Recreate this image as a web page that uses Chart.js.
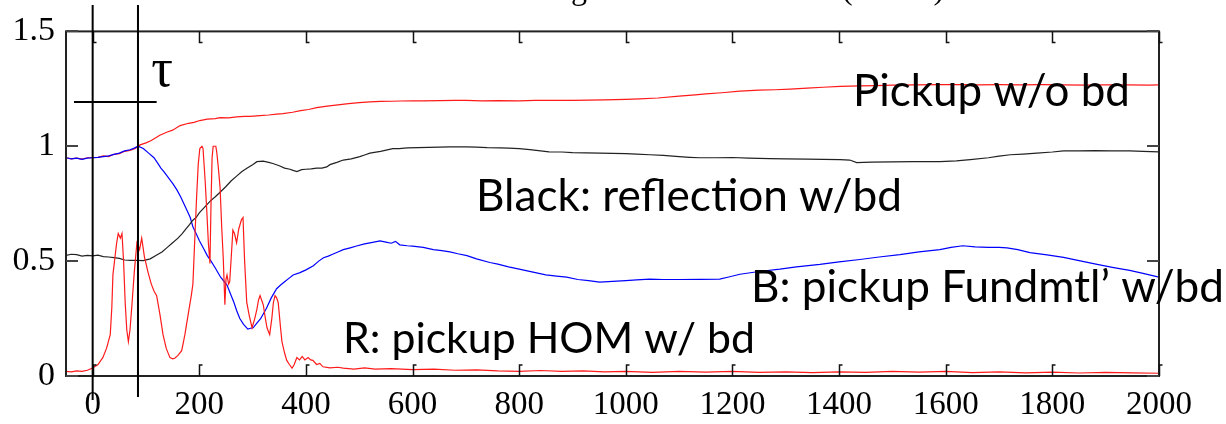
<!DOCTYPE html>
<html><head><meta charset="utf-8">
<script src="https://cdn.jsdelivr.net/npm/chart.js@4.4.1/dist/chart.umd.min.js"></script>
<style>html,body{margin:0;padding:0;background:#fff;overflow:hidden}</style>
</head><body>
<canvas id="c" width="1226" height="424" style="width:1226px;height:424px;display:block"></canvas>
<script>
const xTicks = [0,200,400,600,800,1000,1200,1400,1600,1800,2000];
const yTicks = [0,0.5,1,1.5];
const yTickLabels = {0:'0',0.5:'0.5',1:'1',1.5:'1.5'};
const tauLines = [0, 85];
const tauBarY = 1.193;

const pickupNoBd = [[-50,.95],[-40,.945],[-30,.948],[-20,.944],[-10,.95],[0,.95],[10,.952],[20,.958],[30,.955],[40,.965],[50,.968],[60,.978],[70,.982],[80,.99],[85,1.0],[89,1.006],[100,1.015],[110,1.025],[126,1.048],[140,1.062],[150,1.07],[164,1.09],[180,1.10],[190,1.104],[201,1.112],[215,1.118],[230,1.12],[239,1.125],[255,1.124],[270,1.128],[285,1.13],[295,1.13],[314,1.133],[330,1.136],[345,1.14],[357,1.142],[375,1.148],[390,1.155],[405,1.16],[420,1.168],[440,1.175],[460,1.18],[480,1.186],[500,1.19],[520,1.193],[540,1.195],[560,1.196],[578,1.197],[600,1.198],[620,1.198],[650,1.199],[680,1.2],[700,1.2],[730,1.198],[760,1.199],[800,1.198],[830,1.2],[860,1.2],[900,1.2],[930,1.201],[960,1.202],[1000,1.204],[1026,1.206],[1060,1.21],[1100,1.218],[1130,1.224],[1150,1.228],[1180,1.233],[1214,1.24],[1250,1.244],[1280,1.246],[1308,1.249],[1340,1.253],[1370,1.257],[1402,1.261],[1440,1.263],[1470,1.264],[1500,1.266],[1540,1.267],[1589,1.268],[1620,1.268],[1660,1.267],[1700,1.268],[1740,1.267],[1780,1.268],[1820,1.267],[1860,1.266],[1900,1.267],[1940,1.267],[1980,1.266],[2000,1.267]];

const reflectionBd = [[-50,.525],[-40,.53],[-30,.528],[-20,.522],[-10,.525],[0,.523],[10,.526],[20,.52],[30,.518],[40,.515],[50,.512],[60,.505],[70,.503],[83,.503],[95,.502],[108,.51],[121,.528],[130,.54],[140,.56],[150,.58],[160,.60],[168,.62],[175,.64],[182,.66],[188,.678],[194,.69],[200,.71],[210,.735],[220,.76],[230,.78],[239,.80],[250,.825],[260,.85],[270,.87],[280,.89],[290,.905],[300,.92],[308,.933],[320,.935],[330,.93],[338,.925],[350,.915],[360,.905],[370,.90],[376,.895],[383,.89],[392,.898],[400,.9],[410,.902],[420,.905],[430,.905],[439,.91],[445,.92],[458,.93],[470,.94],[485,.945],[501,.955],[510,.962],[520,.97],[540,.978],[563,.99],[575,.99],[590,.993],[610,.994],[630,.995],[650,.996],[669,.997],[685,.998],[700,.997],[720,.996],[740,.994],[764,.993],[780,.992],[800,.99],[820,.985],[840,.98],[856,.976],[880,.975],[900,.972],[925,.971],[951,.97],[975,.969],[1000,.968],[1020,.966],[1045,.963],[1070,.96],[1100,.955],[1120,.952],[1139,.95],[1170,.95],[1200,.951],[1230,.948],[1270,.946],[1300,.945],[1340,.944],[1370,.943],[1402,.942],[1420,.94],[1433,.929],[1460,.931],[1500,.932],[1540,.933],[1589,.933],[1620,.936],[1646,.942],[1680,.95],[1700,.957],[1721,.963],[1745,.966],[1771,.97],[1800,.975],[1821,.98],[1850,.98],[1880,.981],[1910,.98],[1945,.98],[1970,.978],[2000,.976]];

const fundamentalBd = [[-50,.95],[-40,.945],[-30,.948],[-20,.943],[-10,.948],[0,.95],[10,.952],[20,.955],[30,.958],[40,.965],[50,.97],[60,.98],[70,.985],[78,.992],[85,1.0],[95,.99],[105,.97],[115,.95],[121,.93],[128,.905],[135,.885],[143,.86],[151,.835],[158,.81],[165,.78],[172,.745],[177,.72],[183,.69],[188,.65],[194,.62],[200,.59],[208,.555],[215,.524],[222,.50],[230,.47],[240,.43],[252,.396],[258,.36],[265,.32],[270,.285],[276,.25],[283,.225],[291,.204],[296,.208],[301,.21],[308,.23],[315,.25],[320,.27],[326,.295],[335,.34],[345,.38],[352,.395],[360,.41],[368,.425],[376,.44],[389,.45],[400,.462],[414,.48],[424,.5],[433,.515],[442,.522],[450,.53],[460,.54],[470,.55],[483,.558],[495,.566],[510,.575],[525,.582],[539,.588],[550,.583],[560,.578],[568,.586],[576,.571],[590,.567],[600,.565],[620,.56],[639,.55],[655,.546],[670,.54],[685,.532],[702,.524],[720,.51],[745,.494],[760,.487],[780,.475],[800,.465],[826,.452],[850,.44],[870,.435],[889,.43],[910,.42],[930,.415],[951,.409],[975,.412],[1000,.415],[1020,.418],[1045,.422],[1070,.42],[1100,.42],[1140,.421],[1176,.422],[1195,.432],[1214,.443],[1250,.455],[1289,.465],[1320,.475],[1364,.486],[1400,.497],[1439,.507],[1475,.518],[1514,.528],[1550,.54],[1589,.55],[1610,.56],[1632,.567],[1655,.562],[1680,.56],[1700,.56],[1715,.558],[1735,.55],[1758,.537],[1790,.527],[1821,.516],[1850,.502],[1884,.486],[1915,.472],[1945,.46],[1970,.447],[2000,.43]];

const homBd = [[-50,.02],[-40,.018],[-30,.022],[-20,.02],[-10,.025],[0,.035],[10,.05],[19,.08],[26,.12],[33,.18],[36,.30],[38,.44],[42,.52],[45,.58],[48,.62],[52,.60],[55,.62],[58,.50],[61,.32],[64,.20],[67,.15],[70,.20],[74,.32],[78,.45],[83,.58],[88,.55],[92,.60],[97,.52],[104,.45],[110,.40],[115,.37],[120,.35],[126,.27],[132,.18],[138,.12],[145,.08],[150,.075],[154,.077],[160,.09],[167,.11],[173,.18],[180,.28],[185,.35],[188,.40],[192,.62],[195,.78],[198,.92],[201,.99],[205,1.0],[207,.99],[211,.85],[214,.72],[217,.58],[220,.49],[222,.75],[224,.95],[226,1.0],[231,1.0],[233,.97],[236,.90],[239,.82],[242,.65],[245,.51],[248,.31],[250,.42],[252,.44],[255,.40],[257,.41],[260,.52],[263,.635],[266,.62],[270,.58],[274,.64],[279,.68],[282,.69],[285,.50],[289,.32],[294,.26],[299,.21],[304,.25],[308,.29],[311,.33],[314,.35],[317,.33],[320,.31],[324,.25],[327,.21],[332,.18],[336,.25],[339,.32],[342,.35],[345,.34],[348,.32],[352,.22],[355,.15],[360,.10],[364,.068],[369,.05],[374,.034],[378,.05],[383,.08],[388,.07],[393,.085],[398,.07],[404,.08],[409,.07],[413,.068],[420,.05],[426,.055],[432,.04],[445,.035],[460,.038],[470,.034],[490,.03],[510,.035],[530,.03],[560,.032],[600,.028],[640,.03],[680,.025],[720,.027],[760,.022],[800,.02],[840,.024],[880,.02],[920,.022],[960,.018],[1000,.02],[1050,.016],[1100,.02],[1150,.017],[1200,.02],[1250,.016],[1300,.018],[1350,.015],[1400,.018],[1450,.016],[1500,.02],[1550,.017],[1600,.02],[1650,.015],[1700,.018],[1750,.014],[1800,.017],[1850,.013],[1900,.016],[1950,.014],[2000,.012]];

const labels = [
  {text:'Pickup w/o bd', x1:853, x2:1130, base:106},
  {text:'Black: reflection w/bd', x1:476, x2:902, base:211},
  {text:'B: pickup Fundmtl\u2019 w/bd', x1:751, x2:1224, base:302},
  {text:'R: pickup HOM w/ bd', x1:343, x2:755, base:353}
];

const toPts = a => a.map(p => ({x:p[0], y:p[1]}));

const decor = {
  id:'decor',
  afterDraw(chart){
    const ctx = chart.ctx, a = chart.chartArea;
    const xs = chart.scales.x, ys = chart.scales.y;
    ctx.save();
    ctx.fillStyle = '#000';
    ctx.font = '32px "Liberation Serif"';
    ctx.textBaseline = 'alphabetic';
    ctx.textAlign = 'right';
    ctx.fillText('Field Strength', 612, -1);
    ctx.textAlign = 'left';
    ctx.fillText('(arb. u.)', 842, -1);
    ctx.strokeStyle = '#222';
    ctx.lineWidth = 2;
    ctx.strokeRect(a.left, a.top, a.right - a.left, a.bottom - a.top);
    ctx.lineWidth = 1.5;
    ctx.strokeStyle = '#111';
    xTicks.forEach(v => {
      const px = Math.round(xs.getPixelForValue(v)) + 0.5;
      ctx.beginPath();
      ctx.moveTo(px, a.bottom); ctx.lineTo(px, a.bottom - 11); ctx.lineTo(px + 3, a.bottom - 11);
      ctx.moveTo(px, a.top); ctx.lineTo(px, a.top + 11); ctx.lineTo(px + 3, a.top + 11);
      ctx.stroke();
    });
    ctx.strokeStyle = '#444';
    ctx.lineWidth = 2;
    yTicks.forEach(v => {
      const py = Math.round(ys.getPixelForValue(v));
      ctx.beginPath();
      ctx.moveTo(a.left, py); ctx.lineTo(a.left + 12, py);
      ctx.moveTo(a.right, py); ctx.lineTo(a.right - 12, py);
      ctx.stroke();
    });
    ctx.strokeStyle = '#000';
    ctx.lineWidth = 2;
    const l0 = xs.getPixelForValue(tauLines[0]), l1 = xs.getPixelForValue(tauLines[1]);
    ctx.beginPath();
    ctx.moveTo(l0, 5); ctx.lineTo(l0, 400);
    ctx.moveTo(l1, 5); ctx.lineTo(l1, 397);
    const by = ys.getPixelForValue(tauBarY);
    ctx.moveTo(xs.getPixelForValue(-35), by); ctx.lineTo(xs.getPixelForValue(120), by);
    ctx.stroke();
    ctx.font = '54px "Liberation Serif"';
    ctx.textAlign = 'left';
    ctx.fillText('\u03C4', xs.getPixelForValue(110), 86);
    labels.forEach(L => {
      ctx.font = '40px Lato';
      const w = ctx.measureText(L.text).width;
      const size = 40 * (L.x2 - L.x1) / w;
      ctx.font = size.toFixed(2) + 'px Lato';
      ctx.fillText(L.text, L.x1, L.base);
    });
    ctx.restore();
  }
};

const ds = (data, color) => ({data: toPts(data), borderColor: color, borderWidth: 1.2, pointRadius: 0, tension: 0, fill: false});

new Chart(document.getElementById('c'), {
  type: 'line',
  data: { datasets: [
    ds(homBd, '#ff1a1a'),
    ds(reflectionBd, '#222222'),
    ds(fundamentalBd, '#0000ff'),
    ds(pickupNoBd, '#ff1a1a')
  ]},
  options: {
    responsive: false, animation: false, devicePixelRatio: 1,
    layout: { padding: { left: 0, top: 24, right: 67, bottom: 0 } },
    plugins: { legend: {display:false}, tooltip: {enabled:false}, title: {display:false} },
    scales: {
      x: {
        type: 'linear', min: -50, max: 2000,
        afterBuildTicks: s => { s.ticks = xTicks.map(v => ({value: v})); },
        afterFit: s => { s.height = 48; },
        grid: { display: false, drawTicks: false },
        border: { display: false },
        ticks: { color: '#000', font: { family: '"Liberation Serif"', size: 33 }, padding: 10, maxRotation: 0, autoSkip: false, callback: v => String(v) }
      },
      y: {
        type: 'linear', min: 0, max: 1.5,
        afterBuildTicks: s => { s.ticks = yTicks.map(v => ({value: v})); },
        afterFit: s => { s.width = 66; },
        grid: { display: false, drawTicks: false },
        border: { display: false },
        ticks: { color: '#000', font: { family: '"Liberation Serif"', size: 34 }, padding: 11, callback: v => yTickLabels[v] }
      }
    }
  },
  plugins: [decor]
});
</script>
</body></html>
